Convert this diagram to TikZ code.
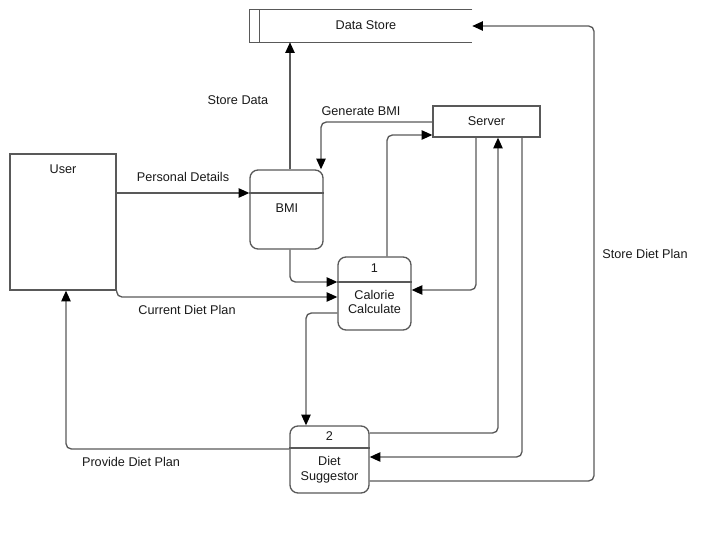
\documentclass[tikz,border=0pt]{standalone}
\usepackage{fontspec}
\setmainfont{Liberation Sans}
\usetikzlibrary{arrows.meta}
\definecolor{linegray}{HTML}{595959}
\begin{document}
\begin{tikzpicture}[x=0.75pt,y=-0.75pt]
\tikzstyle{every node}+=[inner sep=0pt, font=\fontsize{9.5}{11}\selectfont, text=black!90]
\tikzstyle{entity}=[draw=linegray, line width=1pt, fill=white, rectangle]
\tikzstyle{process}=[entity, rounded corners=6pt]
\tikzstyle{divider}=[draw=linegray, line width=1pt]
\tikzstyle{flow}=[draw=linegray, line width=1pt, rounded corners=4pt, -{Triangle[length=8pt,width=7pt,color=black]}]
\useasboundingbox (0,0) rectangle (728,534);
\node [fill=white, minimum width=166.5pt, minimum height=24pt] (store) at (361,26) {};
\draw [divider] (store.north east) -- (store.north west) -- (store.south west) -- (store.south east);
\draw [divider] ([xshift=7.5pt]store.north west) -- ([xshift=7.5pt]store.south west);
\node at (366,25) {Data Store};
\node [entity, minimum width=80.25pt, minimum height=23.25pt] (server) at (486.5,121.5) {Server};
\node [entity, minimum width=79.5pt, minimum height=102pt] (user) at (63,222) {};
\node at (63,169) {User};
\node [process, minimum width=54.75pt, minimum height=59.25pt] (bmi) at (286.5,209.5) {};
\draw [divider] (bmi.west |- 0,193) -- (bmi.east |- 0,193);
\node at (287,208) {BMI};
\node [process, minimum width=54.75pt, minimum height=54.75pt] (calc) at (374.5,293.5) {};
\draw [divider] (calc.west |- 0,282) -- (calc.east |- 0,282);
\node at (374.5,268) {1};
\node [align=center] at (374.5,302) {Calorie\\Calculate};
\node [process, minimum width=59.25pt, minimum height=50.25pt] (diet) at (329.5,459.5) {};
\draw [divider] (diet.west |- 0,448) -- (diet.east |- 0,448);
\node at (329.5,436) {2};
\node [align=center] at (329.5,470) {Diet\\Suggestor};
\draw [flow] (user.east |- 0,193) -- (bmi.west |- 0,193);
\node at (183,177) {Personal Details};
\draw [flow] (bmi.north -| 290,0) -- (store.south -| 290,0);
\node at (238,100) {Store Data};
\draw [flow] (server.west |- 0,122) -| (bmi.north -| 321,0);
\node at (361,111) {Generate BMI};
\draw [flow] (bmi.south -| 290,0) |- (calc.west |- 0,282);
\draw [flow] (user.south east) |- (calc.west |- 0,297);
\node at (187,310) {Current Diet Plan};
\draw [flow] (calc.north -| 387,0) |- (server.west |- 0,135);
\draw [flow] (server.south -| 476,0) |- (calc.east |- 0,290);
\draw [flow] (diet.east |- 0,433) -| (server.south -| 498,0);
\draw [flow] (server.south -| 522,0) |- (diet.east |- 0,457);
\draw [flow] (diet.east |- 0,481) -| (594,26) -- (store.east);
\node at (645,254) {Store Diet Plan};
\draw [flow] (calc.west |- 0,313) -| (diet.north -| 306,0);
\draw [flow] (diet.west |- 0,449) -| (user.south -| 66,0);
\node at (131,462) {Provide Diet Plan};
\end{tikzpicture}
\end{document}
